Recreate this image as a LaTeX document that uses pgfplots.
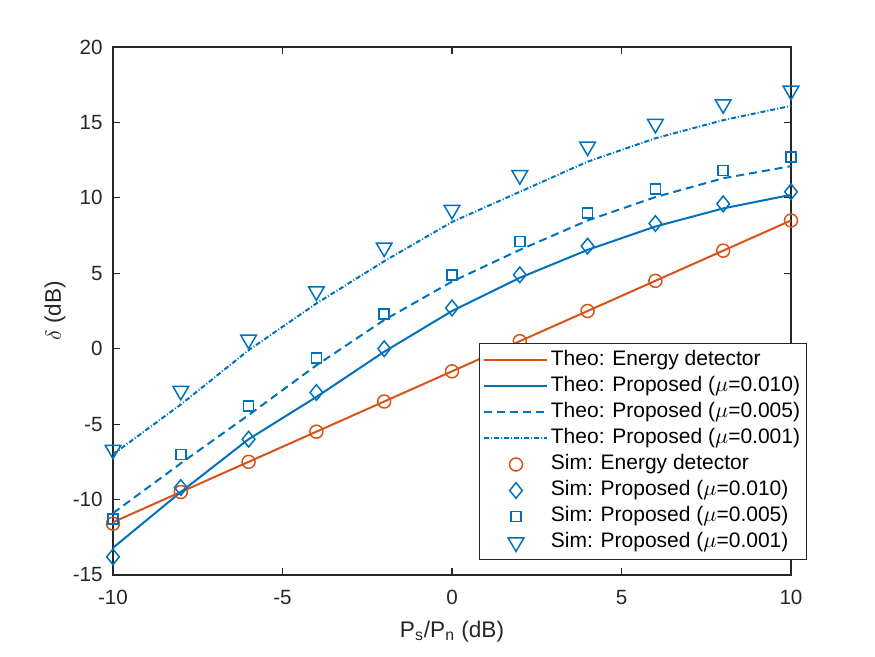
\documentclass[border=0pt]{standalone}
\usepackage{fontspec}
\setmainfont{Liberation Sans}
\usepackage{pgfplots}
\pgfplotsset{compat=1.18}

\definecolor{mblue}{RGB}{0,114,189}
\definecolor{morange}{RGB}{217,83,25}
\definecolor{axgray}{RGB}{38,38,38}

\begin{document}
\begin{tikzpicture}
\useasboundingbox (-56.5pt,-41pt) rectangle (381pt,287.5pt);
\begin{axis}[
  at={(0,0)}, anchor=south west,
  width=339pt, height=264pt, scale only axis,
  xmin=-10, xmax=10, ymin=-15, ymax=20,
  xtick={-10,-5,0,5,10}, ytick={-15,-10,-5,0,5,10,15,20},
  xticklabels={-10,-5,0,5,10},
  yticklabels={-15,-10,-5,0,5,10,15,20},
  tick align=inside,
  major tick length=3.5pt,
  axis line style={axgray, line width=0.6pt},
  every tick/.style={axgray, line width=0.6pt},
  tick label style={font=\fontsize{10.3}{12}\selectfont, text=axgray},
  xticklabel style={yshift=-4.2pt},
  yticklabel style={xshift=-1.7pt},
  xlabel={P\textsubscript{s}/P\textsubscript{n} (dB)},
  ylabel={$\delta$ (dB)},
  label style={font=\fontsize{11.3}{13}\selectfont, text=axgray},
  xlabel style={at={(axis description cs:0.5,-0.107)}, anchor=center},
  ylabel style={at={(axis description cs:-0.0855,0.5)}, anchor=center},
  legend image code/.code={\draw[mark repeat=2,mark phase=2,#1] plot coordinates {(0pt,0pt) (15.75pt,0pt) (31.5pt,0pt)};},
  legend cell align=left,
  legend style={at={(1.0236,0.4394)}, anchor=north east,
    draw=axgray, line width=0.5pt, fill=white,
    font=\fontsize{10.5}{12}\selectfont,
    inner xsep=2pt, inner ysep=2pt, row sep=0pt,
    nodes={inner sep=1.2pt, text height=8pt, text depth=2.6pt}},
]
% theoretical curves
\addplot[morange, line width=1pt] coordinates {
  (-10,-11.5) (-8,-9.5) (-6,-7.5) (-4,-5.5) (-2,-3.5) (0,-1.5)
  (2,0.5) (4,2.5) (6,4.5) (8,6.5) (10,8.5)};
\addlegendentry{Theo: Energy detector}
\addplot[mblue, line width=1pt] coordinates {
  (-10,-13.2) (-8,-9.5) (-6,-6.0) (-4,-3.2) (-2,-0.2) (0,2.5)
  (2,4.7) (4,6.55) (6,8.1) (8,9.3) (10,10.2)};
\addlegendentry{Theo: Proposed ($\mu$=0.010)}
\addplot[mblue, line width=1pt, dash pattern=on 4pt off 2.5pt] coordinates {
  (-10,-10.9) (-8,-7.6) (-6,-4.4) (-4,-1.1) (-2,1.9) (0,4.45)
  (2,6.55) (4,8.5) (6,10.05) (8,11.3) (10,12.1)};
\addlegendentry{Theo: Proposed ($\mu$=0.005)}
\addplot[mblue, line width=1pt, dash pattern=on 2.5pt off 1pt on 0.5pt off 1pt] coordinates {
  (-10,-7.0) (-8,-3.7) (-6,-0.1) (-4,3.0) (-2,5.8) (0,8.4)
  (2,10.4) (4,12.4) (6,13.95) (8,15.15) (10,16.1)};
\addlegendentry{Theo: Proposed ($\mu$=0.001)}
% simulated points
\addplot[only marks, morange, mark=o, mark size=3.25pt, mark options={solid, line width=0.75pt}] coordinates {
  (-10,-11.6) (-8,-9.5) (-6,-7.5) (-4,-5.5) (-2,-3.5) (0,-1.5)
  (2,0.5) (4,2.5) (6,4.5) (8,6.5) (10,8.5)};
\addlegendentry{Sim: Energy detector}
\addplot[only marks, mblue, mark=diamond, mark size=3.9pt, mark options={solid, xscale=1.08, line width=0.75pt}] coordinates {
  (-10,-13.8) (-8,-9.2) (-6,-6.0) (-4,-2.9) (-2,0.0) (0,2.7)
  (2,4.9) (4,6.8) (6,8.3) (8,9.6) (10,10.4)};
\addlegendentry{Sim: Proposed ($\mu$=0.010)}
\addplot[only marks, mblue, mark=square, mark size=2.5pt, mark options={solid, line width=0.75pt}] coordinates {
  (-10,-11.3) (-8,-7.0) (-6,-3.8) (-4,-0.6) (-2,2.3) (0,4.9)
  (2,7.1) (4,9.0) (6,10.6) (8,11.8) (10,12.7)};
\addlegendentry{Sim: Proposed ($\mu$=0.005)}
\addplot[only marks, mblue, mark=triangle, mark size=4.5pt, mark options={solid, rotate=180, line width=0.75pt}] coordinates {
  (-10,-6.7) (-8,-2.8) (-6,0.6) (-4,3.8) (-2,6.7) (0,9.2)
  (2,11.5) (4,13.4) (6,14.9) (8,16.2) (10,17.1)};
\addlegendentry{Sim: Proposed ($\mu$=0.001)}
\end{axis}
\end{tikzpicture}
\end{document}
